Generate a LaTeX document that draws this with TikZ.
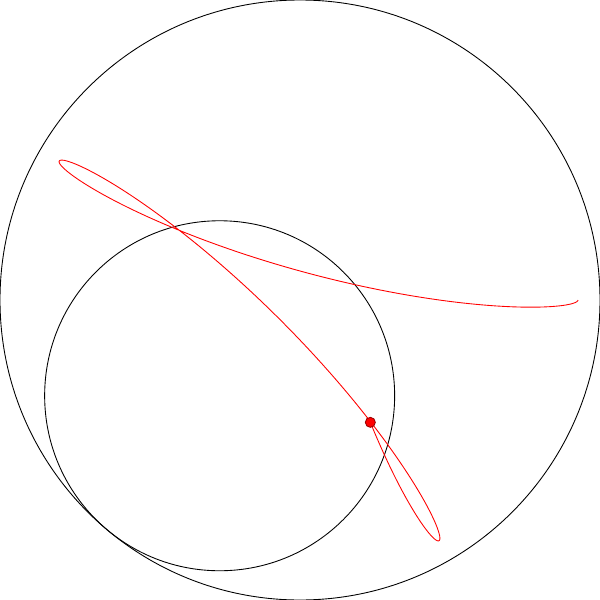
\documentclass[tikz,border=0pt]{standalone}
\usepackage{tikz}
\usetikzlibrary{calc}

\begin{document}
\begin{tikzpicture}[
    wheel/.style={draw=black, line width=0.5pt},
    trace/.style={draw=red, line width=0.5pt},
    pen/.style={circle, fill=red, draw=red!60!black, line width=0.5pt, inner sep=0pt, minimum size=0.2cm},
]
\useasboundingbox (-6,-6) rectangle (6,6);

% ======== CIRCLES ========
\coordinate (ocenter) at (0,0);
\coordinate (icenter) at ({2.5*cos(490)},{-2.5*sin(490)});
\draw[wheel] (ocenter) circle (6);
\draw[wheel] (icenter) circle (3.5);

% ======== TRACED CURVE ========
\draw[trace] plot[domain=0:490, samples=500, variable=\t]
    ({2.5*cos(\t)+3.06*cos(5*\t/7)}, {-2.5*sin(\t)+3.06*sin(5*\t/7)});

% Pen point
\node[pen] (tip) at ($(icenter)+({3.06*cos(350)},{3.06*sin(350)})$) {};

\end{tikzpicture}
\end{document}
